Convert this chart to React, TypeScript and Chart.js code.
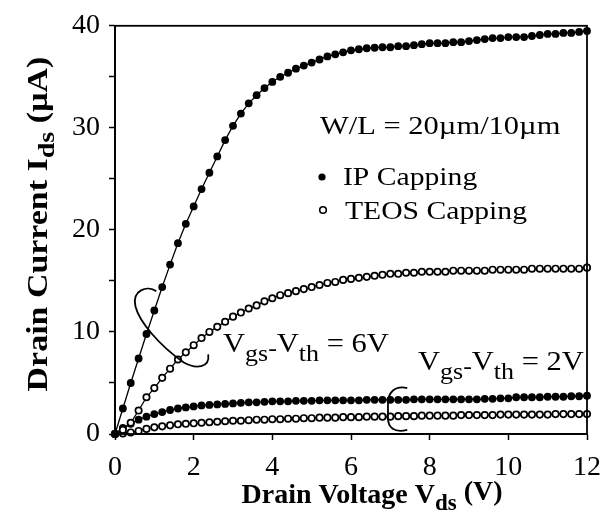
import React, { useEffect, useRef } from 'react';
import { Chart, registerables } from 'chart.js';

Chart.register(...registerables);

// Drain voltage samples (V)
const vds = [
  0, 0.2, 0.4, 0.6, 0.8, 1.0, 1.2, 1.4, 1.6, 1.8,
  2.0, 2.2, 2.4, 2.6, 2.8, 3.0, 3.2, 3.4, 3.6, 3.8,
  4.0, 4.2, 4.4, 4.6, 4.8, 5.0, 5.2, 5.4, 5.6, 5.8,
  6.0, 6.2, 6.4, 6.6, 6.8, 7.0, 7.2, 7.4, 7.6, 7.8,
  8.0, 8.2, 8.4, 8.6, 8.8, 9.0, 9.2, 9.4, 9.6, 9.8,
  10.0, 10.2, 10.4, 10.6, 10.8, 11.0, 11.2, 11.4, 11.6, 11.8,
  12.0,
];

// IP capping, Vgs-Vth = 6V (uA)
const ipCap6V = [
  0, 2.5, 5.0, 7.4, 9.8, 12.1, 14.4, 16.6, 18.7, 20.6,
  22.3, 24.0, 25.6, 27.2, 28.8, 30.2, 31.4, 32.4, 33.2, 33.9,
  34.5, 35.0, 35.4, 35.8, 36.1, 36.4, 36.7, 37.0, 37.2, 37.4,
  37.6, 37.7, 37.8, 37.85, 37.9, 37.9, 38.0, 38.0, 38.1, 38.2,
  38.3, 38.3, 38.3, 38.4, 38.4, 38.5, 38.6, 38.7, 38.8, 38.8,
  38.9, 38.9, 38.9, 39.0, 39.1, 39.2, 39.2, 39.3, 39.3, 39.4,
  39.5,
];

// TEOS capping, Vgs-Vth = 6V (uA)
const teosCap6V = [
  0, 0.4, 1.1, 2.3, 3.6, 4.5, 5.5, 6.4, 7.3, 8.0,
  8.7, 9.4, 10.0, 10.5, 11.0, 11.5, 11.9, 12.3, 12.6, 13.0,
  13.3, 13.6, 13.8, 14.0, 14.2, 14.4, 14.6, 14.8, 14.9, 15.1,
  15.2, 15.3, 15.4, 15.5, 15.6, 15.7, 15.7, 15.8, 15.8, 15.9,
  15.9, 15.9, 15.9, 16.0, 16.0, 16.0, 16.0, 16.0, 16.1, 16.1,
  16.1, 16.1, 16.1, 16.2, 16.2, 16.2, 16.2, 16.2, 16.2, 16.2,
  16.3,
];

// IP capping, Vgs-Vth = 2V (uA)
const ipCap2V = [
  0, 0.6, 1.0, 1.4, 1.7, 1.95, 2.15, 2.35, 2.5, 2.6,
  2.7, 2.8, 2.85, 2.9, 2.95, 3.0, 3.05, 3.1, 3.1, 3.15,
  3.2, 3.2, 3.2, 3.25, 3.25, 3.25, 3.3, 3.3, 3.3, 3.3,
  3.3, 3.3, 3.35, 3.35, 3.35, 3.35, 3.35, 3.35, 3.4, 3.4,
  3.4, 3.4, 3.4, 3.4, 3.4, 3.4, 3.4, 3.45, 3.45, 3.5,
  3.5, 3.6, 3.6, 3.6, 3.6, 3.65, 3.65, 3.65, 3.7, 3.7,
  3.75,
];

// TEOS capping, Vgs-Vth = 2V (uA)
const teosCap2V = [
  0, 0.05, 0.15, 0.3, 0.5, 0.65, 0.75, 0.85, 0.95, 1.0,
  1.05, 1.1, 1.15, 1.2, 1.25, 1.3, 1.3, 1.35, 1.4, 1.4,
  1.45, 1.45, 1.5, 1.5, 1.55, 1.55, 1.6, 1.6, 1.6, 1.65,
  1.65, 1.65, 1.7, 1.7, 1.7, 1.7, 1.75, 1.75, 1.75, 1.8,
  1.8, 1.8, 1.8, 1.8, 1.85, 1.85, 1.85, 1.85, 1.85, 1.9,
  1.9, 1.9, 1.9, 1.9, 1.9, 1.9, 1.95, 1.95, 1.95, 1.95,
  1.95,
];

const xTickLabels = ['0', '2', '4', '6', '8', '10', '12'];
const yTickLabels = ['0', '10', '20', '30', '40'];

const SERIF = '"Liberation Serif", "Times New Roman", serif';

type Part = { t: string; size: number; bold?: boolean; dy?: number };

function drawRich(
  ctx: CanvasRenderingContext2D,
  parts: Part[],
  x: number,
  y: number,
  stretch: number,
  align: 'left' | 'center',
  rotate = false
) {
  ctx.save();
  let total = 0;
  for (const p of parts) {
    ctx.font = `${p.bold ? 'bold ' : ''}${p.size}px ${SERIF}`;
    total += ctx.measureText(p.t).width;
  }
  ctx.translate(x, y);
  if (rotate) ctx.rotate(-Math.PI / 2);
  ctx.scale(stretch, 1);
  let cx = align === 'center' ? -total / 2 : 0;
  ctx.fillStyle = '#000';
  ctx.textBaseline = 'alphabetic';
  ctx.textAlign = 'left';
  for (const p of parts) {
    ctx.font = `${p.bold ? 'bold ' : ''}${p.size}px ${SERIF}`;
    ctx.fillText(p.t, cx, p.dy || 0);
    cx += ctx.measureText(p.t).width;
  }
  ctx.restore();
}

const decorPlugin = {
  id: 'decor',
  afterDraw(chart: any) {
    const { ctx, chartArea, scales } = chart;
    const xs = scales.x;
    const ys = scales.y;
    const P = (a: number, b: number): [number, number] => [xs.getPixelForValue(a), ys.getPixelForValue(b)];

    ctx.save();
    // frame
    ctx.strokeStyle = '#000';
    ctx.lineWidth = 1.8;
    ctx.strokeRect(chartArea.left, chartArea.top, chartArea.right - chartArea.left, chartArea.bottom - chartArea.top);

    // loop grouping the 6V curves
    ctx.lineWidth = 1.8;
    ctx.beginPath();
    let p = P(1.05, 14.0);
    ctx.moveTo(p[0], p[1]);
    let c1 = P(0.82, 14.6), c2 = P(0.42, 14.1), e = P(0.52, 12.5);
    ctx.bezierCurveTo(c1[0], c1[1], c2[0], c2[1], e[0], e[1]);
    c1 = P(0.62, 11.0); c2 = P(1.12, 8.7); e = P(1.75, 7.0);
    ctx.bezierCurveTo(c1[0], c1[1], c2[0], c2[1], e[0], e[1]);
    c1 = P(2.05, 6.35); c2 = P(2.42, 6.45); e = P(2.37, 7.8);
    ctx.bezierCurveTo(c1[0], c1[1], c2[0], c2[1], e[0], e[1]);
    ctx.stroke();

    // bracket grouping the 2V curves
    ctx.beginPath();
    p = P(7.43, 4.5);
    ctx.moveTo(p[0], p[1]);
    c1 = P(7.1, 4.8); c2 = P(6.94, 4.0); e = P(6.94, 3.0);
    ctx.bezierCurveTo(c1[0], c1[1], c2[0], c2[1], e[0], e[1]);
    e = P(6.94, 1.56);
    ctx.lineTo(e[0], e[1]);
    c1 = P(6.94, 0.6); c2 = P(7.1, 0.1); e = P(7.43, 0.4);
    ctx.bezierCurveTo(c1[0], c1[1], c2[0], c2[1], e[0], e[1]);
    ctx.stroke();
    ctx.restore();

    // axis titles
    drawRich(
      ctx,
      [
        { t: 'Drain Voltage V', size: 28, bold: true },
        { t: 'ds', size: 23, bold: true, dy: 7 },
        { t: ' (V)', size: 28, bold: true, dy: -3 },
      ],
      372,
      503,
      1.0,
      'center'
    );
    drawRich(
      ctx,
      [
        { t: 'Drain Current I', size: 29, bold: true },
        { t: 'ds', size: 24, bold: true, dy: 7 },
        { t: ' (\u00b5A)', size: 29, bold: true },
      ],
      47,
      224,
      1.17,
      'center',
      true
    );

    // legend text
    drawRich(ctx, [{ t: 'W/L = 20\u00b5m/10\u00b5m', size: 25 }], 320, 134, 1.22, 'left');
    drawRich(ctx, [{ t: 'IP Capping', size: 26 }], 343, 185, 1.14, 'left');
    drawRich(ctx, [{ t: 'TEOS Capping', size: 26 }], 345, 219, 1.14, 'left');
    ctx.save();
    ctx.fillStyle = '#000';
    ctx.beginPath();
    ctx.arc(322, 177, 3.6, 0, Math.PI * 2);
    ctx.fill();
    ctx.strokeStyle = '#000';
    ctx.lineWidth = 1.6;
    ctx.fillStyle = '#fff';
    ctx.beginPath();
    ctx.arc(323, 210, 3.3, 0, Math.PI * 2);
    ctx.fill();
    ctx.stroke();
    ctx.restore();

    // Vgs-Vth labels
    const vLabel = (val: string): Part[] => [
      { t: 'V', size: 27 },
      { t: 'gs', size: 23, dy: 9 },
      { t: '-', size: 23, dy: 4 },
      { t: 'V', size: 27 },
      { t: 'th', size: 23, dy: 9 },
      { t: ' = ' + val, size: 27 },
    ];
    drawRich(ctx, vLabel('6V'), 223, 352, 1.13, 'left');
    drawRich(ctx, vLabel('2V'), 418, 370, 1.13, 'left');
  },
};

export default function App() {
  const ref = useRef<HTMLCanvasElement | null>(null);

  useEffect(() => {
    if (!ref.current) return;
    const mk = (vals: number[]) => vds.map((v, i) => ({ x: v, y: vals[i] }));
    const filled = (vals: number[]) => ({
      data: mk(vals),
      borderColor: '#000',
      borderWidth: 1.3,
      pointRadius: 3.9,
      pointBackgroundColor: '#000',
      pointBorderColor: '#000',
      pointBorderWidth: 0,
      fill: false,
      tension: 0,
      clip: false as any,
    });
    const open = (vals: number[]) => ({
      data: mk(vals),
      borderColor: '#000',
      borderWidth: 1.3,
      pointRadius: 3.2,
      pointBackgroundColor: '#fff',
      pointBorderColor: '#000',
      pointBorderWidth: 1.7,
      fill: false,
      tension: 0,
      clip: false as any,
    });

    const chart = new Chart(ref.current, {
      type: 'line',
      data: {
        datasets: [
          { label: 'IP Capping 6V', ...filled(ipCap6V) },
          { label: 'TEOS Capping 6V', ...open(teosCap6V) },
          { label: 'IP Capping 2V', ...filled(ipCap2V) },
          { label: 'TEOS Capping 2V', ...open(teosCap2V) },
        ] as any,
      },
      options: {
        animation: false,
        responsive: false,
        devicePixelRatio: 1,
        layout: { padding: { left: 0, top: 25, right: 16, bottom: 0 } },
        plugins: {
          legend: { display: false },
          tooltip: { enabled: false },
          title: { display: false },
        },
        scales: {
          x: {
            type: 'linear',
            min: 0,
            max: 12,
            grid: {
              display: true,
              drawOnChartArea: false,
              drawTicks: true,
              tickLength: 6,
              tickColor: '#000',
              tickWidth: 1.5,
            },
            border: { display: true, color: '#000', width: 1.8 },
            ticks: {
              stepSize: 2,
              autoSkip: false,
              maxRotation: 0,
              padding: 11,
              color: '#000',
              font: { family: SERIF, size: 28 },
              callback: (v: any) => (xTickLabels.includes(String(v)) ? String(v) : ''),
            },
            afterFit: (s: any) => {
              s.height = 88;
            },
          },
          y: {
            type: 'linear',
            min: 0,
            max: 40,
            grid: {
              display: true,
              drawOnChartArea: false,
              drawTicks: true,
              tickLength: 6,
              tickColor: '#000',
              tickWidth: 1.5,
            },
            border: { display: true, color: '#000', width: 1.8 },
            ticks: {
              stepSize: 5,
              autoSkip: false,
              padding: 9,
              color: '#000',
              font: { family: SERIF, size: 28 },
              callback: (v: any) => (yTickLabels.includes(String(v)) ? String(v) : ''),
            },
            afterFit: (s: any) => {
              s.width = 115;
            },
          },
        },
      } as any,
      plugins: [decorPlugin],
    });
    return () => chart.destroy();
  }, []);

  return (
    <div style={{ position: 'absolute', left: 0, top: 0, width: 612, height: 522, background: '#fff' }}>
      <canvas ref={ref} width={612} height={522} />
    </div>
  );
}
